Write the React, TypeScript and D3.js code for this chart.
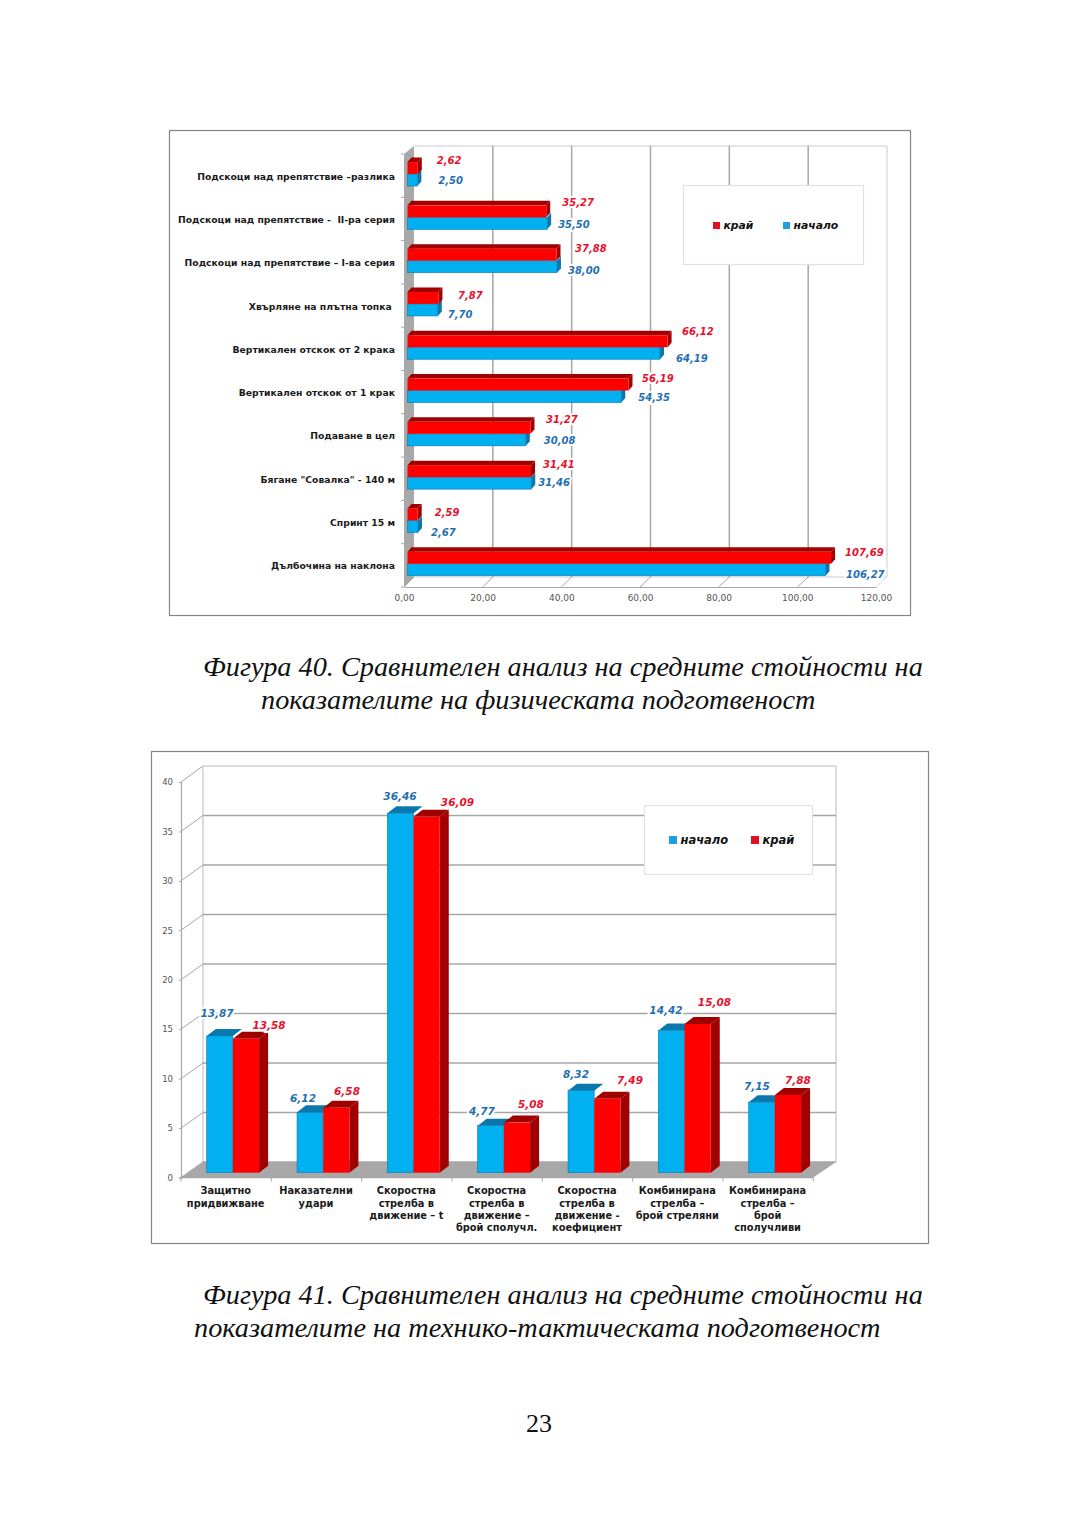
import React, { useEffect, useRef } from "react";
import * as d3 from "d3";

// Фигура 40 (top to bottom, as printed)
const physCategories = [
    "Подскоци над препятствие –разлика",
    "Подскоци над препятствие -  II-ра серия",
    "Подскоци над препятствие – I-ва серия",
    "Хвърляне на плътна топка ",
    "Вертикален отскок от 2 крака",
    "Вертикален отскок от 1 крак",
    "Подаване в цел",
    "Бягане \"Совалка\" - 140 м",
    "Спринт 15 м",
    "Дълбочина на наклона",
];
const physEnd = [2.62, 35.27, 37.88, 7.87, 66.12, 56.19, 31.27, 31.41, 2.59, 107.69];
const physStart = [2.5, 35.5, 38.0, 7.7, 64.19, 54.35, 30.08, 31.46, 2.67, 106.27];
const physTicks = [0, 20, 40, 60, 80, 100, 120];

// Фигура 41
const techCategories = [
    ["Защитно", "придвижване"],
    ["Наказателни", "удари"],
    ["Скоростна", "стрелба в", "движение – t"],
    ["Скоростна", "стрелба в", "движение –", "брой сполучл."],
    ["Скоростна", "стрелба в", "движение -", "коефициент"],
    ["Комбинирана", "стрелба –", "брой стреляни"],
    ["Комбинирана", "стрелба –", "брой", "сполучливи"],
];
const techStart = [13.87, 6.12, 36.46, 4.77, 8.32, 14.42, 7.15];
const techEnd = [13.58, 6.58, 36.09, 5.08, 7.49, 15.08, 7.88];
const techTicks = [0, 5, 10, 15, 20, 25, 30, 35, 40];

// hand placed data labels, offsets from the end of each bar
const physEndDx = [19, 16, 18.5, 19.5, 14.5, 13.5, 15.5, 12, 17, 14];
const physEndDy = [-14.7, -16, -13.3, -9.6, -16.9, -13.2, -15.5, -13.8, -9.1, -12.4];
const physStartDx = [21, 11, 11, 10, 16, 17, 18, 7, 13, 20.5];
const physStartDy = [5.3, 6, 8.7, 9.4, 10.1, 5.8, 5.5, 4.2, 10.9, 9.6];
const techStartDx = [-2.8, -7.1, -0.5, -8.8, -5.1, -5.5, -4.8];
const techStartDy = [-23, -14.4, -17.2, -14.7, -16.7, -20.5, -16.2];
const techEndDx = [23, 10.7, 30.8, 14, 22.7, 16.8, 10];
const techEndDy = [-13.8, -16.8, -14.9, -18.6, -18.8, -22, -15];

const BLUE = "#00b0f0";
const BLUE_DARK = "#0b78ad";
const RED = "#ff0000";
const RED_DARK = "#a00000";
const BLUE_TEXT = "#1f70b0";
const RED_TEXT = "#e8102c";
const GRID = "#a6a6a6";
const GRID_LIGHT = "#dcdcdc";
const FLOOR = "#a8a8a8";
const FONT = "'DejaVu Sans', sans-serif";
const SERIF = "'Liberation Serif', serif";

const comma = d3.formatLocale({ decimal: ",", thousands: " ", grouping: [3], currency: ["", ""] }).format(".2f");
const plain = d3.format("d");

type G = d3.Selection<SVGGElement, unknown, null, undefined>;

const poly = (g: G, pts: number[][], fill: string) =>
    g.append("polygon").attr("points", pts.map(p => p.join(",")).join(" ")).attr("fill", fill);

const line = (g: G, x1: number, y1: number, x2: number, y2: number, color: string, w = 1.5) =>
    g.append("line").attr("x1", x1).attr("y1", y1).attr("x2", x2).attr("y2", y2)
        .attr("stroke", color).attr("stroke-width", w);

const valueLabel = (g: G, x: number, y: number, text: string, color: string, size: number) =>
    g.append("text").attr("x", x).attr("y", y).attr("dy", "0.35em")
        .attr("font-family", FONT).attr("font-size", size).attr("font-weight", "bold").attr("font-style", "italic")
        .attr("fill", color).attr("stroke", "#fff").attr("stroke-width", 4).attr("paint-order", "stroke")
        .text(text);

const legend = (g: G, box: number[], size: number, swatch: number, items: { x: number; y: number; color: string; label: string }[]) => {
    g.append("rect").attr("x", box[0]).attr("y", box[1]).attr("width", box[2]).attr("height", box[3])
        .attr("fill", "#fff").attr("stroke", "#e2e2e2").attr("stroke-width", 1.2);
    items.forEach(it => {
        g.append("rect").attr("x", it.x).attr("y", it.y).attr("width", swatch).attr("height", swatch).attr("fill", it.color);
        g.append("text").attr("x", it.x + swatch + 3.5).attr("y", it.y + swatch / 2).attr("dy", "0.33em")
            .attr("font-family", FONT).attr("font-size", size).attr("font-weight", "bold").attr("font-style", "italic")
            .attr("fill", "#111").text(it.label);
    });
};

function drawPhysical(g: G) {
    g.append("rect").attr("x", 169.5).attr("y", 130.5).attr("width", 741).attr("height", 485)
        .attr("fill", "#fff").attr("stroke", "#858585").attr("stroke-width", 1.2);

    // front plane of the box and the wall behind it, 10px across and 9px up
    const xFront = d3.scaleLinear().domain([0, 120]).range([404, 876]);
    const xBack = d3.scaleLinear().domain([0, 120]).range([414, 887]);
    const xBar = d3.scaleLinear().domain([0, 120]).range([407.5, 879.5]);
    const y = d3.scaleBand().domain(physCategories).range([154, 587]);
    const top = 146, bottom = 577, floor = 587;

    line(g, xBack(0), top, xBack(120), top, GRID_LIGHT);
    line(g, xBack(120), top, xBack(120), bottom, GRID_LIGHT);
    line(g, xBack(0), bottom, xBack(120), bottom, GRID_LIGHT);
    physTicks.slice(1, -1).forEach(t => line(g, xBack(t), top, xBack(t), bottom, GRID));
    physTicks.forEach(t => line(g, xFront(t), floor, xBack(t), bottom, t === 120 ? GRID_LIGHT : GRID, 1));
    poly(g, [[404, 154], [414, top], [414, bottom], [404, floor]], FLOOR);

    const axis = g.append("g").attr("transform", `translate(0,${floor})`)
        .call(d3.axisBottom(xFront).tickValues(physTicks).tickFormat(d => comma(d as number)).tickSize(0).tickPadding(8));
    axis.selectAll("text").attr("font-family", FONT).attr("font-size", 9).attr("fill", "#555");
    axis.select(".domain").attr("stroke", GRID).attr("stroke-width", 1.2);

    const yAxis = g.append("g").attr("transform", "translate(404,1)")
        .call(d3.axisLeft(y).tickSize(0).tickPadding(9));
    yAxis.select(".domain").remove();
    yAxis.selectAll("text").attr("font-family", FONT).attr("font-size", 9.25).attr("font-weight", "bold")
        .attr("fill", "#1a1a1a").style("white-space", "pre");

    physCategories.forEach(c => line(g, 401, (y(c) as number), 404, (y(c) as number), GRID, 1));
    line(g, 401, floor, 404, floor, GRID, 1);

    const h = 12;
    const depX = 4;
    const depY = 4.5;
    physCategories.forEach((c, i) => {
        const mid = (y(c) as number) + y.bandwidth() / 2 - 1.6;
        const x0 = xBar(0);
        const xe = xBar(physEnd[i]);
        const xs = xBar(physStart[i]);

        poly(g, [[xs, mid], [xs + depX, mid - depY], [xs + depX, mid + h - depY], [xs, mid + h]], BLUE_DARK);
        g.append("rect").attr("x", x0).attr("y", mid).attr("width", xs - x0).attr("height", h)
            .attr("fill", BLUE).attr("stroke", BLUE_DARK).attr("stroke-width", 0.6);

        poly(g, [[x0, mid - h], [x0 + depX, mid - h - depY], [xe + depX, mid - h - depY], [xe, mid - h]], RED_DARK);
        poly(g, [[xe, mid - h], [xe + depX, mid - h - depY], [xe + depX, mid - depY], [xe, mid]], RED_DARK);
        g.append("rect").attr("x", x0).attr("y", mid - h).attr("width", xe - x0).attr("height", h).attr("fill", RED);
    });

    physCategories.forEach((c, i) => {
        const center = (y(c) as number) + y.bandwidth() / 2;
        valueLabel(g, xBar(physEnd[i]) + physEndDx[i], center + physEndDy[i], comma(physEnd[i]), RED_TEXT, 10);
        valueLabel(g, xBar(physStart[i]) + physStartDx[i], center + physStartDy[i], comma(physStart[i]), BLUE_TEXT, 10);
    });

    legend(g, [683.5, 185.5, 180, 79], 10.8, 7, [
        { x: 713, y: 222, color: "#e01020", label: "край" },
        { x: 783, y: 222, color: "#1ea0e0", label: "начало" },
    ]);
}

function drawTechnical(g: G) {
    g.append("rect").attr("x", 151.5).attr("y", 751.5).attr("width", 777).attr("height", 492)
        .attr("fill", "#fff").attr("stroke", "#858585").attr("stroke-width", 1.2);

    const yFront = d3.scaleLinear().domain([0, 40]).range([1177.5, 782]);
    const yBack = d3.scaleLinear().domain([0, 40]).range([1162, 766]);
    const yBar = d3.scaleLinear().domain([0, 40]).range([1172.7, 778.3]);
    const x = d3.scaleBand().domain(techCategories.map(c => c.join(" "))).range([181, 813.3]);

    // wall and gridlines, then the floor over them
    line(g, 203, yBack(40), 203, yBack(0), GRID_LIGHT, 2);
    line(g, 836, yBack(40), 836, yBack(0), GRID_LIGHT, 2);
    techTicks.forEach(t => {
        line(g, 203, yBack(t), 836, yBack(t), t === 40 ? GRID_LIGHT : GRID, t === 40 ? 2 : 1.6);
        line(g, 181, yFront(t), 203, yBack(t), GRID, 1);
    });
    poly(g, [[181, yFront(0)], [203, yBack(0)], [836, yBack(0)], [813.3, yFront(0)]], FLOOR);

    const axis = g.append("g").attr("transform", "translate(181,0)")
        .call(d3.axisLeft(yFront).tickValues(techTicks).tickFormat(d => plain(d as number)).tickSize(2).tickPadding(6));
    axis.selectAll("text").attr("font-family", FONT).attr("font-size", 8.5).attr("fill", "#555");
    axis.selectAll("line").attr("stroke", GRID);
    axis.select(".domain").attr("stroke", GRID).attr("stroke-width", 1.2);

    const xAxis = g.append("g").attr("transform", `translate(0,${yFront(0)})`);
    line(xAxis, 181, 0, 813.3, 0, GRID, 1.4);
    d3.range(techCategories.length + 1).forEach(i => line(xAxis, 181 + x.step() * i, 0, 181 + x.step() * i, 4, GRID, 1));

    const w = 26.2;
    const dx = 9;
    const dy = 7;
    techCategories.forEach((c, i) => {
        const key = c.join(" ");
        const left = (x(key) as number) + 25.7;
        const base = yBar(0);
        const ys = yBar(techStart[i]);
        const ye = yBar(techEnd[i]);
        const mid = left + w;
        const right = mid + w;

        poly(g, [[left, ys], [left + dx, ys - dy], [mid + dx, ys - dy], [mid, ys]], BLUE_DARK);
        g.append("rect").attr("x", left).attr("y", ys).attr("width", w).attr("height", base - ys)
            .attr("fill", BLUE).attr("stroke", BLUE_DARK).attr("stroke-width", 0.6);

        poly(g, [[mid, ye], [mid + dx, ye - dy], [right + dx, ye - dy], [right, ye]], RED_DARK);
        poly(g, [[right, ye], [right + dx, ye - dy], [right + dx, base - dy], [right, base]], RED_DARK);
        g.append("rect").attr("x", mid).attr("y", ye).attr("width", w).attr("height", base - ye).attr("fill", RED);

        valueLabel(g, left + w / 2 + techStartDx[i], ys + techStartDy[i], comma(techStart[i]), BLUE_TEXT, 10.5)
            .attr("text-anchor", "middle");
        valueLabel(g, mid + w / 2 + techEndDx[i], ye + techEndDy[i], comma(techEnd[i]), RED_TEXT, 10.5)
            .attr("text-anchor", "middle");

        const cx = (x(key) as number) + x.bandwidth() / 2 - 0.5;
        c.forEach((txt, j) => {
            g.append("text").attr("x", cx).attr("y", 1191 + j * 12.1).attr("dy", "0.35em").attr("text-anchor", "middle")
                .attr("font-family", FONT).attr("font-size", 9.8).attr("font-weight", "bold").attr("fill", "#1a1a1a")
                .text(txt);
        });
    });

    legend(g, [644.5, 805.5, 168, 69], 11.5, 8, [
        { x: 669, y: 836, color: "#1ea0e0", label: "начало" },
        { x: 751, y: 836, color: "#e01020", label: "край" },
    ]);
}

const captions = [
    { text: "Фигура 40. Сравнителен анализ на средните стойности на", x: 203, y: 676 },
    { text: "показателите на физическата подготвеност", x: 261, y: 709 },
    { text: "Фигура 41. Сравнителен анализ на средните стойности на", x: 203, y: 1304 },
    { text: "показателите на технико-тактическата подготвеност", x: 194, y: 1337 },
];

const App: React.FC = () => {
    const svgRef = useRef<SVGSVGElement>(null);

    useEffect(() => {
        if (!svgRef.current) return;
        const svg = d3.select(svgRef.current);
        svg.selectAll("*").remove();

        drawPhysical(svg.append("g") as unknown as G);
        drawTechnical(svg.append("g") as unknown as G);

        svg.selectAll("text.caption")
            .data(captions)
            .enter()
            .append("text")
            .attr("class", "caption")
            .attr("x", d => d.x)
            .attr("y", d => d.y)
            .attr("font-family", SERIF)
            .attr("font-size", 28.3)
            .attr("font-style", "italic")
            .attr("fill", "#111")
            .text(d => d.text);

        svg.append("text").attr("x", 539).attr("y", 1432).attr("text-anchor", "middle")
            .attr("font-family", SERIF).attr("font-size", 26).attr("fill", "#111").text("23");
    }, []);

    return (
        <svg
            ref={svgRef}
            width={1080}
            height={1530}
            style={{ position: "absolute", top: 0, left: 0, display: "block", background: "#fff" }}
        ></svg>
    );
};

export default App;
